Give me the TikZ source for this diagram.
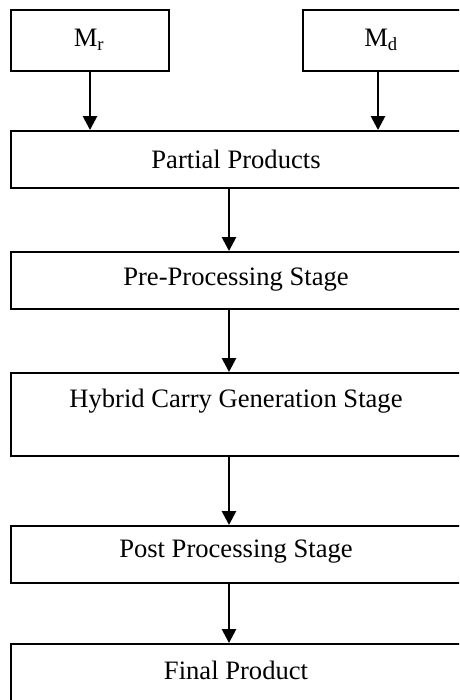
\documentclass[tikz,border=0pt]{standalone}
\usepackage{fontspec}
\setmainfont{Liberation Serif}
\usetikzlibrary{arrows.meta}
\begin{document}
\begin{tikzpicture}[x=1pt,y=-1pt,
  box/.style={draw=black,line width=1.9pt,rectangle,inner sep=0pt,minimum height=#1},
  box/.default=57pt,
  lbl/.style={inner sep=0pt,font=\fontsize{26.6}{30}\selectfont},
  arr/.style={line width=2.6pt,-{Triangle[width=14pt,length=14pt]}}]
\useasboundingbox (0,0) rectangle (459,700);
\clip (0,0) rectangle (459,700);
\node[box=61pt,minimum width=158pt] (mr) at (90,40.5) {};
\node[lbl] (mrt) at (89,40) {M\textsubscript{r}};
\node[box=61pt,minimum width=158pt] (md) at (382,40.5) {};
\node[lbl] (mdt) at (381,40) {M\textsubscript{d}};
\node[box,minimum width=450pt] (pp) at (236,159.5) {};
\node[lbl] (ppt) at (236,159) {Partial Products};
\node[box,minimum width=450pt] (pre) at (236,280.5) {};
\node[lbl] (pret) at (236,280) {Pre-Processing Stage};
\node[box=83pt,minimum width=450pt] (hyb) at (236,414.5) {};
\node[lbl] (hybt) at (236,401) {Hybrid Carry Generation Stage};
\node[box,minimum width=450pt] (post) at (236,554.5) {};
\node[lbl] (postt) at (236,552) {Post Processing Stage};
\node[box=70pt,minimum width=450pt] (fin) at (236,679) {};
\node[lbl] (fint) at (236,670) {Final Product};
\draw[arr] (mr.south) -- (mr.south |- pp.north);
\draw[arr] ([xshift=-4pt]md.south) -- ([xshift=-4pt]md.south |- pp.north);
\draw[arr] ([xshift=-7pt]pp.south) -- ([xshift=-7pt]pre.north);
\draw[arr] ([xshift=-7pt]pre.south) -- ([xshift=-7pt]hyb.north);
\draw[arr] ([xshift=-7pt]hyb.south) -- ([xshift=-7pt]post.north);
\draw[arr] ([xshift=-7pt]post.south) -- ([xshift=-7pt]fin.north);
\end{tikzpicture}
\end{document}
